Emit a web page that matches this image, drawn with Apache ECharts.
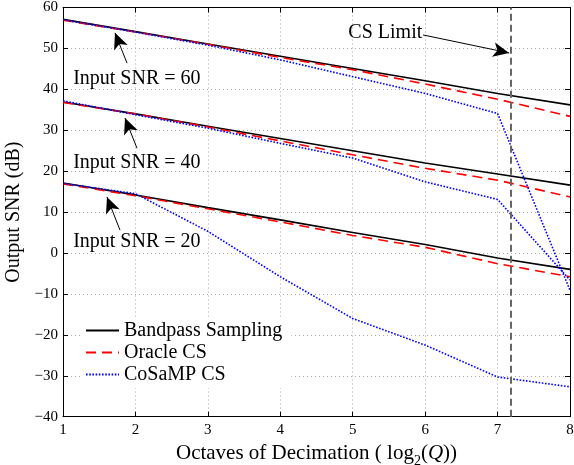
<!DOCTYPE html>
<html>
<head>
<meta charset="utf-8">
<script src="https://cdn.jsdelivr.net/npm/echarts@6/dist/echarts.min.js"></script>
<style>html,body{margin:0;padding:0;background:#fff;}#c{width:574px;height:465px;}</style>
</head>
<body>
<div id="c"></div>
<script>
const octaves = [1, 2, 3, 4, 5, 6, 7, 8];
const bandpass60 = [57.1, 54.1, 51.1, 48.1, 45.1, 42.1, 39.0, 36.2];
const bandpass40 = [36.9, 34.0, 31.0, 28.0, 25.0, 22.0, 19.3, 16.6];
const bandpass20 = [17.1, 14.2, 11.1, 8.1, 5.0, 2.1, -1.2, -4.0];
const oracle60 = [56.9, 54.0, 51.0, 47.8, 44.8, 41.3, 37.6, 33.4];
const oracle40 = [36.8, 34.0, 30.8, 27.4, 24.0, 20.7, 17.8, 13.7];
const oracle20 = [16.9, 14.0, 10.8, 7.6, 4.3, 1.4, -2.6, -5.8];
const cosamp60 = [57.0, 54.0, 50.8, 47.2, 43.1, 39.0, 34.1, -9.1];
const cosamp40 = [37.2, 33.8, 30.5, 26.8, 23.2, 17.4, 13.1, -6.6];
const cosamp20 = [17.0, 14.5, 5.3, -5.8, -16.0, -22.5, -30.3, -32.7];
const csLimit = 7.18;
const yTicks = [-40, -30, -20, -10, 0, 10, 20, 30, 40, 50, 60];
const seriesNames = ['Bandpass Sampling', 'Oracle CS', 'CoSaMP CS'];
const annotations = [
  {text: 'Input SNR = 60', at: [1.14, 42.5], head: [1.718, 53.8], tail: [1.884, 46.4]},
  {text: 'Input SNR = 40', at: [1.14, 22.0], head: [1.856, 33.0], tail: [2.022, 25.6]},
  {text: 'Input SNR = 20', at: [1.14, 2.7], head: [1.607, 13.7], tail: [1.787, 5.6]}
];
const csLabel = {text: 'CS Limit', at: [5.45, 53.8], tail: [5.97, 53.3], head: [7.16, 48.9]};

const FONT = 'Liberation Serif';
const pairs = ys => octaves.map((x, i) => [x, ys[i]]);
const fmt = v => String(v).replace('-', '\u2212');

function lineSeries(name, ys, color, type, width) {
  return {
    name: name, type: 'line', data: pairs(ys), symbol: 'none', showSymbol: false, silent: true,
    lineStyle: {color: color, type: type, width: width},
    itemStyle: {color: color}, animation: false
  };
}

const series = [];
[bandpass60, bandpass40, bandpass20].forEach(d => series.push(lineSeries(seriesNames[0], d, '#000', 'solid', 1.6)));
[oracle60, oracle40, oracle20].forEach(d => series.push(lineSeries(seriesNames[1], d, '#ff0000', [10, 6], 1.6)));
[cosamp60, cosamp40, cosamp20].forEach(d => series.push(lineSeries(seriesNames[2], d, '#0000ff', [1.6, 1.6], 1.6)));

const arrowLines = annotations.map(a => [{coord: a.tail}, {coord: a.head}]);
arrowLines.push([{coord: csLabel.tail}, {coord: csLabel.head}]);

series.push({
  name: 'annot', type: 'line', data: [], symbol: 'none', animation: false,
  markLine: {
    silent: true, animation: false, label: {show: false},
    data: [[{coord: [csLimit, -40], symbol: 'none'}, {coord: [csLimit, 60], symbol: 'none'}]],
    lineStyle: {color: '#666', type: [7, 4], width: 2}
  }
});
series.push({
  name: 'arrows', type: 'line', data: [], symbol: 'none', animation: false,
  markLine: {
    silent: true, animation: false, label: {show: false},
    symbol: ['none', 'arrow'], symbolSize: [11, 16],
    data: arrowLines,
    lineStyle: {color: '#000', type: 'solid', width: 1}
  }
});

const chart = echarts.init(document.getElementById('c'));
const axisCommon = {
  axisLine: {show: true, onZero: false, lineStyle: {color: '#000', width: 1}},
  axisTick: {show: true, inside: true, length: 5, lineStyle: {color: '#000'}}
};
chart.setOption({
  animation: false,
  backgroundColor: '#fff',
  grid: {left: 63, right: 4, top: 7.5, bottom: 48.3, containLabel: false, outerBoundsMode: 'none'},
  legend: {
    data: seriesNames, orient: 'vertical', left: 82, top: 319,
    backgroundColor: '#fff', padding: [1, 9, 3, 3], itemGap: 1,
    itemWidth: 33, itemHeight: 14,
    itemStyle: {opacity: 0},
    textStyle: {fontFamily: FONT, fontSize: 20, color: '#000', lineHeight: 21}
  },
  xAxis: [
    Object.assign({}, axisCommon, {
      type: 'value', min: 1, max: 8, interval: 1, position: 'bottom',
      axisLabel: {fontFamily: FONT, fontSize: 15, color: '#000', margin: 6, formatter: fmt},
      splitLine: {show: true, lineStyle: {color: '#aaa', type: [1, 3], width: 1}},
      name: '{a|Octaves of Decimation ( }{b|log}{s|2}{b|(}{q|Q}{b|))}',
      nameLocation: 'middle', nameGap: 11,
      nameTextStyle: {
        rich: {
          a: {fontFamily: FONT, fontSize: 21, color: '#000'},
          b: {fontFamily: FONT, fontSize: 21, color: '#000'},
          q: {fontFamily: FONT, fontSize: 21, color: '#000', fontStyle: 'italic'},
          s: {fontFamily: FONT, fontSize: 14, color: '#000', padding: [16, 0, 0, 0]}
        }
      }
    }),
    Object.assign({}, axisCommon, {
      type: 'value', min: 1, max: 8, interval: 1, position: 'top',
      axisLabel: {show: false}, splitLine: {show: false}
    })
  ],
  yAxis: [
    Object.assign({}, axisCommon, {
      type: 'value', min: yTicks[0], max: yTicks[yTicks.length - 1], interval: 10, position: 'left',
      axisLabel: {fontFamily: FONT, fontSize: 15, color: '#000', margin: 5, formatter: fmt},
      splitLine: {show: true, lineStyle: {color: '#aaa', type: [1, 3], width: 1}},
      name: 'Output SNR (dB)', nameLocation: 'middle', nameGap: 34,
      nameTextStyle: {fontFamily: FONT, fontSize: 20, color: '#000'}
    }),
    Object.assign({}, axisCommon, {
      type: 'value', min: yTicks[0], max: yTicks[yTicks.length - 1], interval: 10, position: 'right',
      axisLabel: {show: false}, splitLine: {show: false}
    })
  ],
  series: series
});

const graphics = annotations.concat([csLabel]).map(a => {
  const p = chart.convertToPixel({xAxisIndex: 0, yAxisIndex: 0}, a.at);
  return {
    type: 'text', x: p[0], y: p[1], silent: true,
    style: {text: a.text, fontFamily: FONT, fontSize: 20, fill: '#000',
      textAlign: a === csLabel ? 'center' : 'left', textVerticalAlign: 'middle'}
  };
});
chart.setOption({graphic: graphics});
</script>
</body>
</html>
